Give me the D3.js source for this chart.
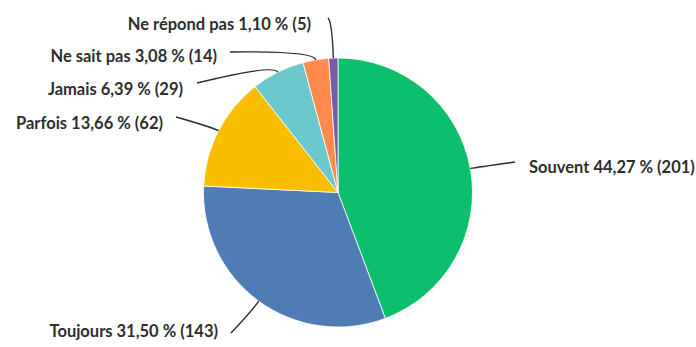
<!DOCTYPE html>
<html>
<head>
<meta charset="utf-8">
<script src="https://cdn.jsdelivr.net/npm/d3@7"></script>
<style>
  html, body { margin: 0; padding: 0; background: #fff; }
  svg { display: block; }
  .lbl { font-family: Lato, sans-serif; font-weight: 700; font-size: 16.5px; fill: #2e2e2e; }
</style>
</head>
<body>
<svg id="chart" width="696" height="347"></svg>
<script>
// Survey answers, in the order the slices run clockwise from 12 o'clock
const categories = ["Souvent", "Toujours", "Parfois", "Jamais", "Ne sait pas", "Ne répond pas"];
const counts     = [201, 143, 62, 29, 14, 5];
const percents   = ["44,27", "31,50", "13,66", "6,39", "3,08", "1,10"];
const colors     = ["#0bbf6c", "#507cb6", "#f9be00", "#6bc8cd", "#ff8a4c", "#7b5aa6"];

// Label placement: text anchor point, text alignment, leader end point, elbow distance beyond the rim
const labelLayout = [
  { tx: 529, ty: 173, anchor: "start", ex: 515, ey: 162, elbow: 8 },
  { tx: 218, ty: 337, anchor: "end",   ex: 231, ey: 333, elbow: 14 },
  { tx: 163, ty: 129, anchor: "end",   ex: 176, ey: 117, elbow: 8 },
  { tx: 183, ty: 95,  anchor: "end",   ex: 197, ey: 83,  elbow: 9 },
  { tx: 217, ty: 62,  anchor: "end",   ex: 230, ey: 52,  elbow: 9 },
  { tx: 311, ty: 30,  anchor: "end",   ex: 328, ey: 18,  elbow: 36 }
];

const svg = d3.select("#chart");
const cx = 338, cy = 192.5, radius = 134.5;

const data = categories.map((c, i) => ({ name: c, value: counts[i], pct: percents[i], color: colors[i], layout: labelLayout[i] }));

const pie = d3.pie().value(d => d.value).sort(null);
const arcs = pie(data);
const arc = d3.arc().innerRadius(0).outerRadius(radius);

const g = svg.append("g").attr("transform", `translate(${cx},${cy})`);

g.selectAll("path.slice")
  .data(arcs)
  .join("path")
  .attr("class", "slice")
  .attr("d", arc)
  .attr("fill", d => d.data.color)
  .attr("stroke", "#fff")
  .attr("stroke-width", 0.8);

// Leader lines: leave the rim at the slice mid-angle, bend, then run to the label
function pointAt(angle, r) {
  return [cx + r * Math.sin(angle), cy - r * Math.cos(angle)];
}

svg.selectAll("path.leader")
  .data(arcs)
  .join("path")
  .attr("class", "leader")
  .attr("fill", "none")
  .attr("stroke", "#2b2b2b")
  .attr("stroke-width", 1.4)
  .attr("d", d => {
    const mid = (d.startAngle + d.endAngle) / 2;
    const L = d.data.layout;
    const s = pointAt(mid, radius);
    const e = pointAt(mid, radius + L.elbow);
    const p = d3.path();
    p.moveTo(s[0], s[1]);
    p.quadraticCurveTo(e[0], e[1], L.ex, L.ey);
    return p.toString();
  });

svg.selectAll("text.lbl")
  .data(arcs)
  .join("text")
  .attr("class", "lbl")
  .attr("x", d => d.data.layout.tx)
  .attr("y", d => d.data.layout.ty)
  .attr("text-anchor", d => d.data.layout.anchor)
  .text(d => `${d.data.name} ${d.data.pct} % (${d.data.value})`);
</script>
</body>
</html>
